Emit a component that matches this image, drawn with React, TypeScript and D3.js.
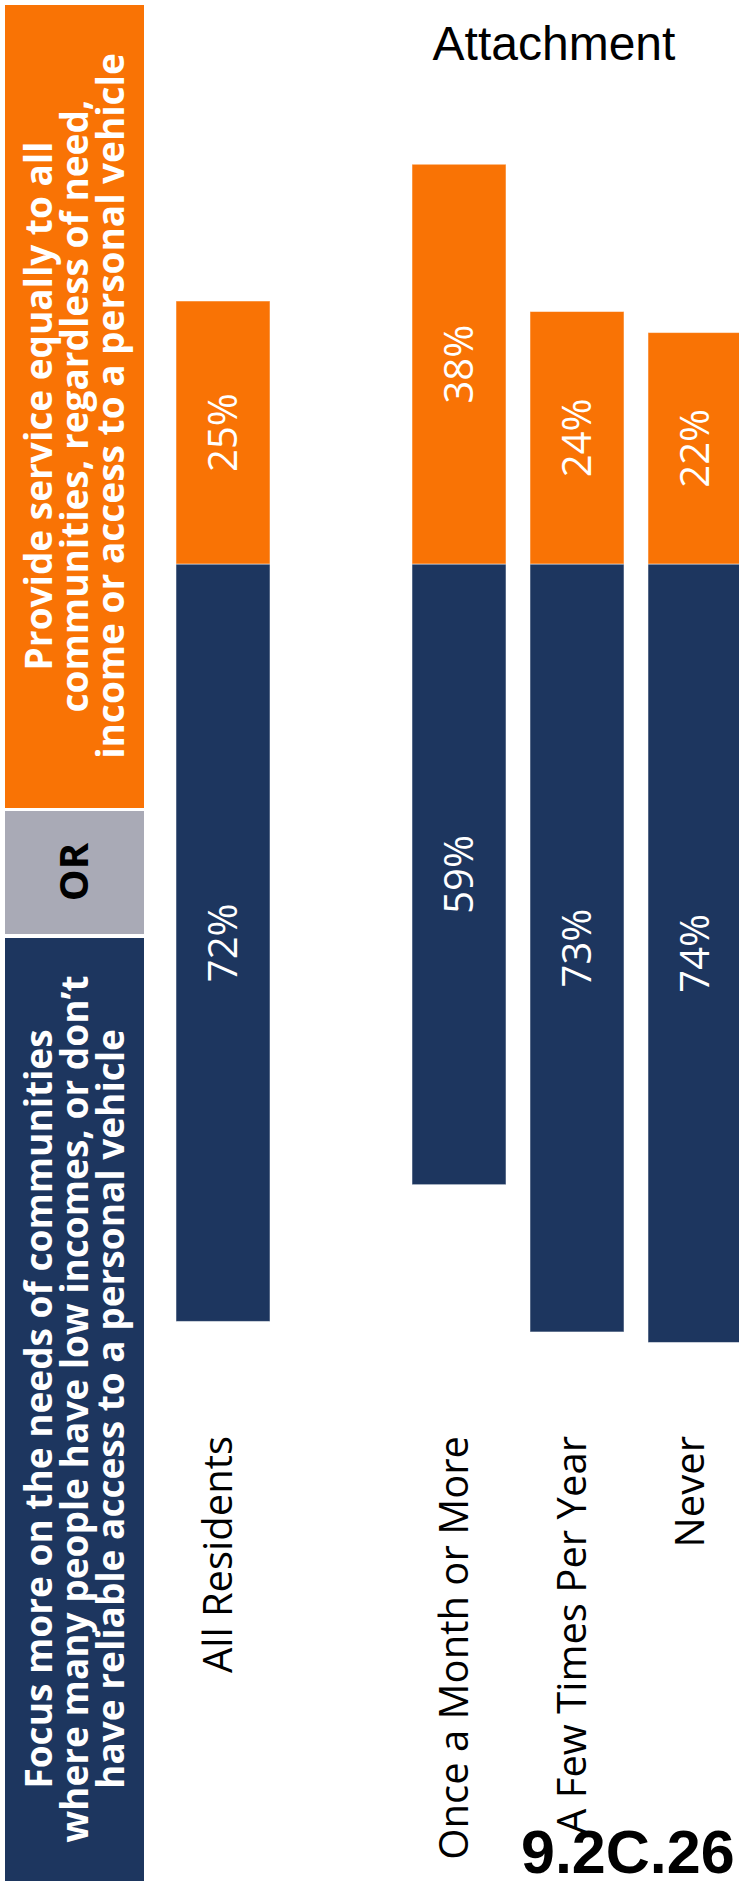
import { useEffect, useRef } from 'react'
import * as d3 from 'd3'

// survey categories (one empty slot separates "All Residents" from the attachment groups)
const categories = ['All Residents', 'Once a Month or More', 'A Few Times Per Year', 'Never']
const slots = ['All Residents', '__gap', 'Once a Month or More', 'A Few Times Per Year', 'Never']

// % of respondents
const focusNeeds = [72, 59, 73, 74]
const provideEqually = [25, 38, 24, 22]

const chartTitle = 'Attachment'
const slideId = '9.2C.26'
const orLabel = 'OR'

const equalLines = [
  'Provide service equally to all',
  'communities, regardless of need,',
  'income or access to a personal vehicle',
]
const focusLines = [
  'Focus more on the needs of communities',
  'where many people have low incomes, or don’t',
  'have reliable access to a personal vehicle',
]

const W = 739
const H = 1893
const ORANGE = '#F97305'
const NAVY = '#1D365F'
const GREY = '#A9AAB6'
const SANS = "'Open Sans', 'Noto Sans', sans-serif"
const ARIAL = "'Liberation Sans', Arial, sans-serif"

export default function App() {
  const svgRef = useRef<SVGSVGElement>(null)

  useEffect(() => {
    if (!svgRef.current) return

    // Clear previous content
    d3.select(svgRef.current).selectAll('*').remove()

    const svg = d3.select(svgRef.current)
      .attr('width', W)
      .attr('height', H)

    svg.append('rect')
      .attr('width', W)
      .attr('height', H)
      .attr('fill', '#ffffff')

    // Scales (chart is drawn rotated: categories run across, values run up/down from the split line)
    const x = d3.scaleBand<string>()
      .domain(slots)
      .range([164, 754])
      .paddingInner(24 / 118)
      .paddingOuter(12 / 118)

    const y = d3.scaleLinear()
      .domain([-100, 100])
      .range([564 - 1052, 564 + 1052])

    // Legend panels on the left
    const legend = svg.append('g')
    const panels = [
      { y0: 5, y1: 808, fill: ORANGE },
      { y0: 811, y1: 934, fill: GREY },
      { y0: 938, y1: 1881, fill: NAVY },
    ]
    legend.selectAll('rect')
      .data(panels)
      .enter().append('rect')
      .attr('x', 5)
      .attr('y', d => d.y0)
      .attr('width', 139)
      .attr('height', d => d.y1 - d.y0)
      .attr('fill', d => d.fill)

    const addLines = (lines: string[], cy: number) => {
      lines.forEach((line, i) => {
        legend.append('text')
          .attr('transform', `translate(${52 + i * 36},${cy}) rotate(-90)`)
          .attr('text-anchor', 'middle')
          .attr('fill', '#ffffff')
          .attr('font-family', SANS)
          .attr('font-weight', 'bold')
          .attr('font-size', '37px')
          .text(line)
      })
    }
    addLines(equalLines, 406)
    addLines(focusLines, 1409)

    legend.append('text')
      .attr('transform', 'translate(88,872) rotate(-90)')
      .attr('text-anchor', 'middle')
      .attr('fill', '#000000')
      .attr('font-family', SANS)
      .attr('font-weight', 'bold')
      .attr('font-size', '40px')
      .text(orLabel)

    // Bars
    const rows = categories.map((c, i) => ({ c, focus: focusNeeds[i], equal: provideEqually[i] }))
    const bars = svg.append('g')

    bars.selectAll('.focus')
      .data(rows)
      .enter().append('rect')
      .attr('class', 'focus')
      .attr('x', d => x(d.c)!)
      .attr('y', y(0))
      .attr('width', x.bandwidth())
      .attr('height', d => y(d.focus) - y(0))
      .attr('fill', NAVY)
      .attr('stroke', '#ffffff')
      .attr('stroke-opacity', 0.5)
      .attr('stroke-width', 1)

    bars.selectAll('.equal')
      .data(rows)
      .enter().append('rect')
      .attr('class', 'equal')
      .attr('x', d => x(d.c)!)
      .attr('y', d => y(-d.equal))
      .attr('width', x.bandwidth())
      .attr('height', d => y(0) - y(-d.equal))
      .attr('fill', ORANGE)
      .attr('stroke', '#ffffff')
      .attr('stroke-opacity', 0.5)
      .attr('stroke-width', 1)

    // Value labels
    const labelSize = 40
    const cx = (c: string) => x(c)! + x.bandwidth() / 2
    bars.selectAll('.focus-label')
      .data(rows)
      .enter().append('text')
      .attr('class', 'focus-label')
      .attr('transform', d => `translate(${cx(d.c) + labelSize * 0.36},${(y(0) + y(d.focus)) / 2}) rotate(-90)`)
      .attr('text-anchor', 'middle')
      .attr('fill', '#ffffff')
      .attr('font-family', SANS)
      .attr('font-size', `${labelSize}px`)
      .text(d => `${d.focus}%`)

    bars.selectAll('.equal-label')
      .data(rows)
      .enter().append('text')
      .attr('class', 'equal-label')
      .attr('transform', d => `translate(${cx(d.c) + labelSize * 0.36},${(y(0) + y(-d.equal)) / 2}) rotate(-90)`)
      .attr('text-anchor', 'middle')
      .attr('fill', '#ffffff')
      .attr('font-family', SANS)
      .attr('font-size', `${labelSize}px`)
      .text(d => `${d.equal}%`)

    // Category labels
    svg.append('g')
      .selectAll('text')
      .data(categories)
      .enter().append('text')
      .attr('transform', d => `translate(${cx(d) + 9},1436) rotate(-90)`)
      .attr('text-anchor', 'end')
      .attr('fill', '#000000')
      .attr('font-family', SANS)
      .attr('font-size', '40px')
      .text(d => d)

    // Title and slide number
    svg.append('text')
      .attr('x', 554)
      .attr('y', 60)
      .attr('text-anchor', 'middle')
      .attr('fill', '#000000')
      .attr('font-family', ARIAL)
      .attr('font-size', '48px')
      .text(chartTitle)

    svg.append('text')
      .attr('x', 521)
      .attr('y', 1873)
      .attr('fill', '#000000')
      .attr('font-family', ARIAL)
      .attr('font-weight', 'bold')
      .attr('font-size', '61px')
      .text(slideId)
  }, [])

  return (
    <div style={{ position: 'absolute', left: 0, top: 0, width: W, height: H, overflow: 'hidden' }}>
      <svg ref={svgRef} style={{ display: 'block' }}></svg>
    </div>
  )
}
